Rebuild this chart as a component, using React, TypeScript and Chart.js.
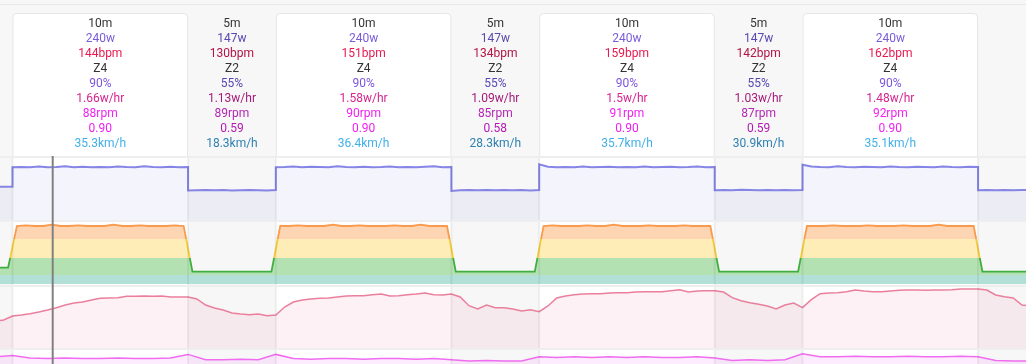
import React, { useEffect, useRef } from "react";
import { Chart, registerables } from "chart.js";

Chart.register(...registerables);

// ---------------- data ----------------
const viewStartMin = -0.712;
const viewEndMin = 57.73;
const cursorMin = 2.29;

const firstSegmentStartMin = -1;
const segmentKinds = ["warmup", "work", "rest", "work", "rest", "work", "rest", "work", "rest"];
const segmentMinutes = [1, 10, 5, 10, 5, 10, 5, 10, 5];

// card texts (one per completed interval)
const durationLabels = ["10m", "5m", "10m", "5m", "10m", "5m", "10m"];
const powerLabels = ["240w", "147w", "240w", "147w", "240w", "147w", "240w"];
const hrLabels = ["144bpm", "130bpm", "151bpm", "134bpm", "159bpm", "142bpm", "162bpm"];
const zoneLabels = ["Z4", "Z2", "Z4", "Z2", "Z4", "Z2", "Z4"];
const ftpPctLabels = ["90%", "55%", "90%", "55%", "90%", "55%", "90%"];
const effLabels = ["1.66w/hr", "1.13w/hr", "1.58w/hr", "1.09w/hr", "1.5w/hr", "1.03w/hr", "1.48w/hr"];
const cadenceLabels = ["88rpm", "89rpm", "90rpm", "85rpm", "91rpm", "87rpm", "92rpm"];
const ifLabels = ["0.90", "0.59", "0.90", "0.58", "0.90", "0.59", "0.90"];
const speedLabels = ["35.3km/h", "18.3km/h", "36.4km/h", "28.3km/h", "35.7km/h", "30.9km/h", "35.1km/h"];

// power (w), one value every 0.5 min from segment start to segment end
const powerWarmup = [161, 160, 160];
const powerWork1 = [240, 241, 240, 243, 240, 241, 244, 240, 242, 240, 241, 240, 243, 241, 240, 244, 241, 240, 242, 240, 241];
const powerRest1 = [145, 146, 147, 146, 147, 145, 146, 147, 146, 145, 147];
const powerWork2 = [240, 241, 243, 240, 242, 241, 240, 244, 241, 240, 242, 240, 241, 243, 240, 241, 240, 242, 244, 240, 241];
const powerRest2 = [143, 146, 147, 146, 147, 146, 147, 146, 147, 145, 147];
const powerWork3 = [252, 242, 240, 241, 240, 243, 240, 241, 242, 240, 241, 240, 243, 240, 241, 242, 240, 241, 243, 240, 241];
const powerRest3 = [146, 147, 146, 148, 147, 146, 147, 146, 147, 146, 147];
const powerWork4 = [250, 243, 241, 240, 244, 241, 240, 242, 241, 240, 243, 241, 240, 242, 241, 240, 243, 241, 240, 242, 241];
const powerRest4 = [146, 147, 146, 147, 146, 147, 146, 147, 146, 147, 146];

// smoothed % FTP, one value every 0.5 min, offset 0.25 min inside each segment
const zoneWarmup = [58, 58];
const zoneWork1 = [90, 90.5, 90, 90, 91, 90, 90, 90.5, 90, 90, 90, 91, 90, 90, 90.5, 90, 90, 90, 90.5, 90];
const zoneRest1 = [55, 55, 55, 55, 55, 55, 55, 55, 55, 55];
const zoneWork2 = [90, 90, 90.5, 90, 90, 90, 91, 90, 90, 90.5, 90, 90, 90, 90.5, 90, 90, 91, 90, 90, 90];
const zoneRest2 = [55, 55, 55, 55, 55, 55, 55, 55, 55, 55];
const zoneWork3 = [90, 90.5, 90, 90, 90, 90.5, 90, 90, 91, 90, 90, 90, 90.5, 90, 90, 90, 90.5, 90, 90, 90];
const zoneRest3 = [55, 55, 55, 55, 55, 55, 55, 55, 55, 55];
const zoneWork4 = [90, 90, 90, 90.5, 90, 90, 90, 90.5, 90, 90, 90, 90.5, 90, 90, 90, 91, 90, 90, 90, 90];
const zoneRest4 = [55, 55, 55, 55, 55, 55, 55, 55, 55, 55];
const zoneBandEdges = [80, 65.5, 52.3, 45.2];

// heart rate (bpm), one value every 0.5 min from -1 min
const hrStartMin = -1;
const hrStepMin = 0.5;
const hrBpm = [
  116, 117.5, 123.5, 125, 127, 129.5, 132.5, 136, 140, 143, 144.5, 147.5, 150, 150.5, 151, 153, 153, 153.5, 153, 153.5,
  152, 152, 152, 149, 140, 135.5, 132.5, 128, 126.5, 125.5, 126.5, 124, 125, 137, 144.5, 147.5, 149, 150, 150.5, 152,
  153.5, 154, 154, 155.5, 156.5, 153.5, 154, 155.5, 156.5, 158, 155.5, 155, 156.5, 152, 139, 134, 140, 136, 136, 134,
  131, 133, 130, 138.5, 150.5, 153.5, 155.5, 156.5, 157, 157, 158, 158.5, 158.5, 159.5, 160, 160, 160, 161.5, 163, 159.5,
  161, 161.5, 161.5, 159.5, 151, 146.5, 143.5, 141, 138.5, 134, 140, 143, 136, 148, 157, 158, 158.5, 160, 162.5, 161,
  160, 160, 161, 162, 162.5, 162.5, 162, 162.5, 162.5, 163, 164, 164, 164, 162.5, 155, 152.5, 150.5, 140, 138.5,
];

// cadence (rpm), one value per minute from -1 min
const cadStartMin = -1;
const cadStepMin = 1;
const cadenceRpm = [
  91, 93, 89, 88, 89, 88, 88, 89, 88, 88, 89, 95, 86, 86, 87, 86, 95, 88, 87, 88,
  88, 87, 88, 88, 87, 88, 86, 84, 85, 84, 84, 91, 90, 91, 90, 91, 90, 91, 90, 90,
  91, 89, 85, 86, 85, 86, 96, 91, 91, 92, 91, 91, 92, 91, 91, 92, 91, 85, 84, 84,
];

// ---------------- build ----------------
const powerSegments = [powerWarmup, powerWork1, powerRest1, powerWork2, powerRest2, powerWork3, powerRest3, powerWork4, powerRest4];
const zoneSegments = [zoneWarmup, zoneWork1, zoneRest1, zoneWork2, zoneRest2, zoneWork3, zoneRest3, zoneWork4, zoneRest4];

const segmentStarts: number[] = [];
{
  let t = firstSegmentStartMin;
  for (const m of segmentMinutes) {
    segmentStarts.push(t);
    t += m;
  }
}

const powerPoints: { x: number; y: number }[] = [];
powerSegments.forEach((vals, s) => {
  vals.forEach((v, i) => powerPoints.push({ x: segmentStarts[s] + i * 0.5, y: v }));
});
const zonePoints: { x: number; y: number }[] = [];
zoneSegments.forEach((vals, s) => {
  vals.forEach((v, i) => zonePoints.push({ x: segmentStarts[s] + 0.25 + i * 0.5, y: v }));
});
const hrPoints = hrBpm.map((v, i) => ({ x: hrStartMin + i * hrStepMin, y: v }));
const cadPoints = cadenceRpm.map((v, i) => ({ x: cadStartMin + i * cadStepMin, y: v }));

// ---------------- styles ----------------
const workTextColors = ["#333333", "#7a5cd8", "#e8194e", "#333333", "#7d55dc", "#d6248f", "#f122f1", "#f01ff0", "#42b0e8"];
const restTextColors = ["#333333", "#5848b0", "#b31346", "#333333", "#5945b3", "#a51a78", "#b526b5", "#b418b4", "#2e80b0"];

function zoneGradient(chart: any, forLine: boolean) {
  const s = chart.scales.yZone;
  if (!chart.chartArea || !s) return forLine ? "#44b044" : "rgba(0,0,0,0)";
  const ctx = chart.ctx as CanvasRenderingContext2D;
  const g = ctx.createLinearGradient(0, s.top, 0, s.bottom);
  const off = (v: number) => Math.min(1, Math.max(0, (s.getPixelForValue(v) - s.top) / (s.bottom - s.top)));
  const [e1, e2, e3, e4] = zoneBandEdges;
  if (forLine) {
    g.addColorStop(0, "#f99a4c");
    g.addColorStop(off(e1), "#f99a4c");
    g.addColorStop(off(e1), "#f5cc3c");
    g.addColorStop(off(e2), "#f5cc3c");
    g.addColorStop(off(e2), "#3fae3f");
    g.addColorStop(1, "#3fae3f");
  } else {
    g.addColorStop(0, "#fdd5b2");
    g.addColorStop(off(e1), "#fdd5b2");
    g.addColorStop(off(e1), "#feedb6");
    g.addColorStop(off(e2), "#feedb6");
    g.addColorStop(off(e2), "#b3e1b1");
    g.addColorStop(off(e3), "#b3e1b1");
    g.addColorStop(off(e3), "#b2e0d6");
    g.addColorStop(off(e4), "#b2e0d6");
    g.addColorStop(off(e4), "rgba(255,255,255,0)");
    g.addColorStop(1, "rgba(255,255,255,0)");
  }
  return g;
}

const panelPlugin = {
  id: "panels",
  beforeDraw(chart: any) {
    const { ctx, chartArea: a, width, height } = chart;
    const xs = chart.scales.x;
    ctx.save();
    ctx.fillStyle = "#ffffff";
    ctx.fillRect(0, 0, width, height);
    ctx.fillStyle = "#f7f7f7";
    ctx.fillRect(0, 0, width, a.top);
    ctx.fillStyle = "#e9e9e9";
    ctx.fillRect(0, 4, width, 1);

    segmentKinds.forEach((kind, s) => {
      const x0 = xs.getPixelForValue(segmentStarts[s]);
      const x1 = xs.getPixelForValue(segmentStarts[s] + segmentMinutes[s]);
      if (kind !== "work") {
        ctx.fillStyle = "#f7f7f7";
        ctx.fillRect(x0, a.top, x1 - x0, a.bottom - a.top);
      } else {
        ctx.save();
        ctx.beginPath();
        ctx.rect(0, 0, width, a.top);
        ctx.clip();
        ctx.beginPath();
        ctx.roundRect(x0 + 0.5, 13.5, x1 - x0 - 1, a.top - 13.5 + 8, 4);
        ctx.fillStyle = "#ffffff";
        ctx.fill();
        ctx.strokeStyle = "#e6e6e6";
        ctx.lineWidth = 1;
        ctx.stroke();
        ctx.restore();
      }
    });

    // card texts
    ctx.font = "12px Roboto";
    ctx.textAlign = "center";
    ctx.textBaseline = "alphabetic";
    for (let c = 0; c < durationLabels.length; c++) {
      const s = c + 1;
      const x0 = xs.getPixelForValue(segmentStarts[s]);
      const x1 = xs.getPixelForValue(segmentStarts[s] + segmentMinutes[s]);
      const cx = (x0 + x1) / 2;
      const lines = [
        durationLabels[c], powerLabels[c], hrLabels[c], zoneLabels[c], ftpPctLabels[c],
        effLabels[c], cadenceLabels[c], ifLabels[c], speedLabels[c],
      ];
      const colors = segmentKinds[s] === "work" ? workTextColors : restTextColors;
      lines.forEach((t, k) => {
        ctx.fillStyle = colors[k];
        ctx.fillText(t, cx, 27 + k * 15.04);
      });
    }
    ctx.restore();
  },
  afterDatasetsDraw(chart: any) {
    const { ctx, chartArea: a, width } = chart;
    const xs = chart.scales.x;
    ctx.save();
    // vertical interval boundaries
    ctx.fillStyle = "rgba(0,0,0,0.055)";
    for (let s = 1; s < segmentStarts.length; s++) {
      const x = xs.getPixelForValue(segmentStarts[s]);
      ctx.fillRect(x - 1, a.top, 2, a.bottom - a.top);
    }
    // panel separators
    ctx.fillStyle = "#eeeeee";
    ["yPow", "yZone", "yHr", "yCad"].forEach((id) => {
      const sc = chart.scales[id];
      ctx.fillRect(0, sc.top - 1, width, 2);
    });
    ctx.restore();
  },
  afterDraw(chart: any) {
    const { ctx, chartArea: a } = chart;
    const x = chart.scales.x.getPixelForValue(cursorMin);
    ctx.save();
    ctx.strokeStyle = "#808080";
    ctx.lineWidth = 2;
    ctx.beginPath();
    ctx.moveTo(x, a.top - 1);
    ctx.lineTo(x, a.bottom);
    ctx.stroke();
    ctx.restore();
  },
};

export default function App() {
  const ref = useRef<HTMLCanvasElement | null>(null);
  useEffect(() => {
    document.body.style.margin = "0";
    const canvas = ref.current;
    if (!canvas) return;
    const chart = new Chart(canvas, {
      type: "line",
      data: {
        datasets: [
          {
            data: powerPoints,
            yAxisID: "yPow",
            borderColor: "#8585e6",
            borderWidth: 2,
            backgroundColor: "rgba(100,100,230,0.07)",
            fill: "start",
            pointRadius: 0,
            tension: 0,
          },
          {
            data: zonePoints,
            yAxisID: "yZone",
            borderColor: (c: any) => zoneGradient(c.chart, true),
            backgroundColor: (c: any) => zoneGradient(c.chart, false),
            borderWidth: 1.8,
            fill: "start",
            pointRadius: 0,
            tension: 0,
          },
          {
            data: hrPoints,
            yAxisID: "yHr",
            borderColor: "#ea7f9d",
            borderWidth: 1.5,
            backgroundColor: "rgba(230,100,140,0.09)",
            fill: "start",
            pointRadius: 0,
            tension: 0,
          },
          {
            data: cadPoints,
            yAxisID: "yCad",
            borderColor: "#f06cf0",
            borderWidth: 1.5,
            backgroundColor: "rgba(240,100,240,0.12)",
            fill: "start",
            pointRadius: 0,
            tension: 0,
          },
        ],
      } as any,
      options: {
        responsive: false,
        animation: false,
        events: [],
        devicePixelRatio: 1,
        layout: { padding: { top: 157, left: 0, right: 0, bottom: 0 } },
        plugins: { legend: { display: false }, tooltip: { enabled: false } },
        scales: {
          x: { type: "linear", min: viewStartMin, max: viewEndMin, display: false },
          yPow: { type: "linear", position: "right", stack: "panels", stackWeight: 64, min: 20, max: 282, display: false },
          yZone: { type: "linear", position: "right", stack: "panels", stackWeight: 65, min: 43.9, max: 93.85, display: false },
          yHr: { type: "linear", position: "right", stack: "panels", stackWeight: 63, min: 74, max: 168.5, display: false },
          yCad: { type: "linear", position: "right", stack: "panels", stackWeight: 15, min: 79, max: 104, display: false },
        },
      } as any,
      plugins: [panelPlugin],
    });
    return () => chart.destroy();
  }, []);
  return <canvas ref={ref} width={1026} height={364} style={{ display: "block" }} />;
}
